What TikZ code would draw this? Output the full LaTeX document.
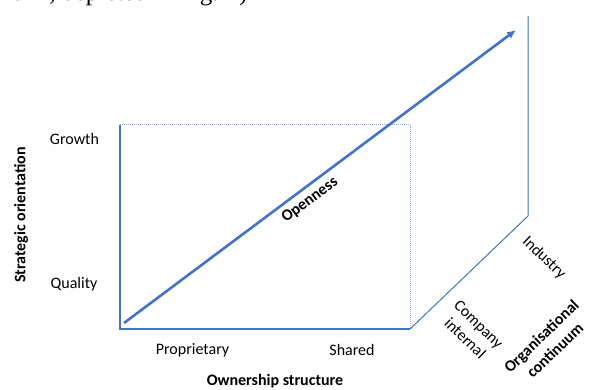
\documentclass[tikz,border=0pt]{standalone}
\usepackage{fontspec}
\setmainfont{Carlito}
\newfontfamily\paperfont{Liberation Serif}
\usepackage{tikz}
\usetikzlibrary{arrows.meta, positioning, calc}
\definecolor{axisblue}{HTML}{4472C4}
\definecolor{dotblue}{HTML}{8FAADC}

\begin{document}
\begin{tikzpicture}[
			x=1pt, y=1pt,
			>=Latex,
			every node/.style={font=\fontsize{16}{19.5}\selectfont, inner sep=1pt},
			axis/.style={draw=axisblue, line width=1.6pt},
			edge/.style={draw=dotblue, line width=1pt, dash pattern=on 1pt off 1pt},
			depth/.style={draw=axisblue, line width=1pt},
			trend/.style={draw=axisblue, line width=2.6pt, -{Latex[length=9pt, width=8pt]}},
			label/.style={align=center},
			title/.style={font=\fontsize{16}{19.5}\selectfont\bfseries, align=center}
			]
			\useasboundingbox (0,0) rectangle (589,389);
			% --- Punkty narożne ---
			\coordinate (origin) at (120,60);
			\coordinate (topleft) at (120,264);
			\coordinate (topright) at (410,264);
			\coordinate (botright) at (410,60);
			\coordinate (far) at (528,173);
			\coordinate (fartop) at (528,373);
			\coordinate (start) at (124,66);
			\coordinate (tip) at (516,359);
			
			% --- Fragment tekstu nad rysunkiem ---
			\node[anchor=base west, inner sep=0pt, font=\paperfont\fontsize{25}{30}\selectfont] (caption) at (-1,388.5) {2021; depicted in Fig. 1)};
			
			% --- Osie i krawędzie ---
			\draw[edge] (topleft) -- (topright) -- (botright);
			\draw[axis] (topleft) -- (origin) -- (botright);
			\draw[depth] (botright) -- (far) -- (fartop);
			
			% --- Etykiety osi ---
			\node[label] (growth) at (74.5,250) {Growth};
			\node[label] (quality) at (74,105) {Quality};
			\node[title, rotate=90] (strategy) at (21,174) {Strategic orientation};
			\node[label] (proprietary) at (192.5,38.5) {Proprietary};
			\node[label] (shared) at (352,38.5) {Shared};
			\node[title] (ownership) at (275,8) {Ownership structure};
			\node[label, rotate=-44] (industry) at (544,131) {Industry};
			\node[label, rotate=-44] (internal) at (472,57.5) {Company\\internal};
			\node[title, rotate=44] (continuum) at (548,46) {Organisational\\continuum};
			
			% --- Strzałka otwartości ---
			\draw[trend] (start) -- node[pos=0.455, sloped, below=4pt, font=\fontsize{16}{19.5}\selectfont\bfseries] (openness) {Openness} (tip);
			
		\end{tikzpicture}
\end{document}
